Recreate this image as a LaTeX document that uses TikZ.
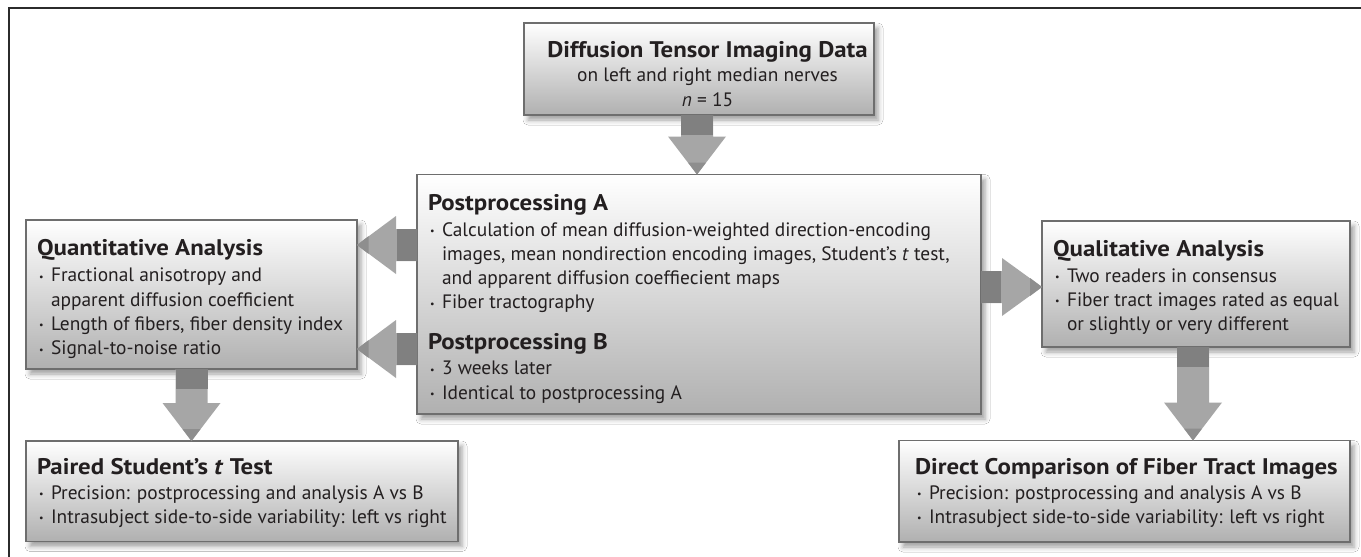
\documentclass[tikz,border=0pt]{standalone}
\usepackage{fontspec}
\usepackage{graphicx}
\setmainfont{PT Sans}
\newfontfamily\headfont{PT Sans}[FakeStretch=1.1]
\usetikzlibrary{calc,shadows.blur}

\definecolor{ink}{HTML}{231F20}
\definecolor{boxedge}{HTML}{6E6E6E}
\definecolor{arrowlight}{HTML}{A6A6A6}
\definecolor{arrowdark}{HTML}{808080}
\definecolor{arrowtip}{HTML}{8E8E8E}
\definecolor{framecol}{HTML}{2B2B2B}

\newcommand{\bodysize}{\fontsize{19.4}{24.3}\selectfont}
\newcommand{\headsize}{\headfont\bfseries\fontsize{22.6}{24.3}\selectfont}
\newcommand{\bul}{\makebox[14pt][l]{\hspace{2pt}\raisebox{1.6pt}{\fontsize{10}{10}\selectfont •}}}
\newcommand{\cont}{\hspace*{14pt}}

% block arrow pointing down: #1 start on source, #2 tip on target
\newcommand{\vblock}[2]{%
  \fill[arrowlight] ($(#1)+(-16,0)$) -- ($(#2)+(-16,-38)$) -- ($(#2)+(-29,-38)$) -- (#2)
    -- ($(#2)+(29,-38)$) -- ($(#2)+(16,-38)$) -- ($(#1)+(16,0)$) -- cycle;
  \fill[arrowdark] ($(#1)+(-16,0)$) rectangle ($(#1)+(16,20)$);
  \fill[arrowtip] (#2) -- ($(#2)+(-9,-12)$) -- ($(#2)+(9,-12)$) -- cycle;}

% block arrow sideways: #1 start, #2 tip, #3 signed head length, #4 signed dark shaft length
\newcommand{\hblock}[4]{%
  \fill[arrowlight] ($(#1)+(0,-16)$) -- ($(#2)+(#3,-16)$) -- ($(#2)+(#3,-29)$) -- (#2)
    -- ($(#2)+(#3,29)$) -- ($(#2)+(#3,16)$) -- ($(#1)+(0,16)$) -- cycle;
  \fill[arrowdark] ($(#1)+(0,-16)$) rectangle ($(#1)+(#4,16)$);
  \fill[arrowtip] (#2) -- ($(#2)+(#3*0.3,-9)$) -- ($(#2)+(#3*0.3,9)$) -- cycle;}

\tikzset{
  box/.style={draw=boxedge, line width=1.4pt, top color=white, bottom color=black!31,
    anchor=north west, inner sep=0pt, outer sep=0pt,
    blur shadow={shadow xshift=4pt, shadow yshift=-5pt, shadow blur radius=5pt, shadow opacity=38}},
  txt/.style={anchor=base west, inner sep=0pt, outer sep=0pt, text=ink},
}

\begin{document}
\begin{tikzpicture}[x=1pt, y=-1pt]
  \useasboundingbox (0,0) rectangle (1361,557);
  \fill[white] (0,0) rectangle (1361,557);
  \draw[framecol, line width=2pt, line join=miter] (9,557) -- (9,8) -- (1361,8);

  % boxes
  \node[box, minimum width=350pt, minimum height=92pt]    (dti)    at (524,23)    {};
  \node[box, minimum width=564pt, minimum height=239.5pt] (pp)     at (417,174.5) {};
  \node[box, minimum width=331pt, minimum height=149pt]   (qa)     at (26,220)    {};
  \node[box, minimum width=308pt, minimum height=126pt]   (qual)   at (1042,221)  {};
  \node[box, minimum width=432pt, minimum height=100.5pt] (paired) at (26,441)    {};
  \node[box, minimum width=451pt, minimum height=101.5pt] (direct) at (899,440.5) {};

  % texts
  \node[txt, anchor=base] (dtiText) at (707.5,57) {\parbox[t]{360pt}{\centering\fontsize{19.4}{24.5}\selectfont
    {\headsize Diffusion Tensor Imaging Data}\\
    on left and right median nerves\hspace*{24pt}\\
    \textit{n} = 15}};

  \node[txt] (ppText) at (428,210.5) {\parbox[t]{560pt}{\bodysize
    {\headsize Postprocessing A}\\[1.2pt]
    \bul Calculation of mean diffusion-weighted direction-encoding\\
    \cont images, mean nondirection encoding images, Student’s \textit{t} test,\\
    \cont and apparent diffusion coeffiecient maps\\
    \bul Fiber tractography\\[16.2pt]
    {\headsize Postprocessing B}\\[1.2pt]
    \bul 3 weeks later\\
    \bul Identical to postprocessing A}};

  \node[txt] (qaText) at (37,255.5) {\parbox[t]{330pt}{\bodysize
    {\headsize Quantitative Analysis}\\[2pt]
    \bul Fractional anisotropy and\\
    \cont apparent diffusion coefficient\\
    \bul Length of fibers, fiber density index\\
    \bul Signal-to-noise ratio}};

  \node[txt] (qualText) at (1053,256.5) {\parbox[t]{300pt}{\bodysize
    {\headsize Qualitative Analysis}\\[1.2pt]
    \bul Two readers in consensus\\
    \bul Fiber tract images rated as equal\\
    \cont or slightly or very different}};

  \node[txt] (pairedText) at (37,474.5) {\parbox[t]{420pt}{\bodysize
    {\headsize Paired Student’s \textit{t} Test}\\[0.2pt]
    \bul Precision: postprocessing and analysis A vs B\\
    \bul Intrasubject side-to-side variability: left vs right}};

  \node[txt] (directText) at (915,474.5) {\parbox[t]{440pt}{\bodysize
    {\headsize Direct Comparison of Fiber Tract Images}\\[0.2pt]
    \bul Precision: postprocessing and analysis A vs B\\
    \bul Intrasubject side-to-side variability: left vs right}};

  % connector end points
  \coordinate (aS) at ($(dti.south)+(-2,0)$);
  \coordinate (aT) at (aS |- pp.north);
  \coordinate (bS) at ($(pp.north west)+(0,70.5)$);
  \coordinate (bT) at (bS -| qa.east);
  \coordinate (cS) at ($(pp.north west)+(0,174.5)$);
  \coordinate (cT) at (cS -| qa.east);
  \coordinate (dS) at ($(pp.north east)+(0,112.5)$);
  \coordinate (dT) at (dS -| qual.west);
  \coordinate (eS) at (qa.south);
  \coordinate (eT) at (eS |- paired.north);
  \coordinate (fS) at ($(qual.south)+(-3,0)$);
  \coordinate (fT) at (fS |- direct.north);

  % block arrows
  \vblock{aS}{aT}
  \hblock{bS}{bT}{39}{-20}
  \hblock{cS}{cT}{39}{-20}
  \hblock{dS}{dT}{-40}{20}
  \vblock{eS}{eT}
  \vblock{fS}{fT}
\end{tikzpicture}
\end{document}
